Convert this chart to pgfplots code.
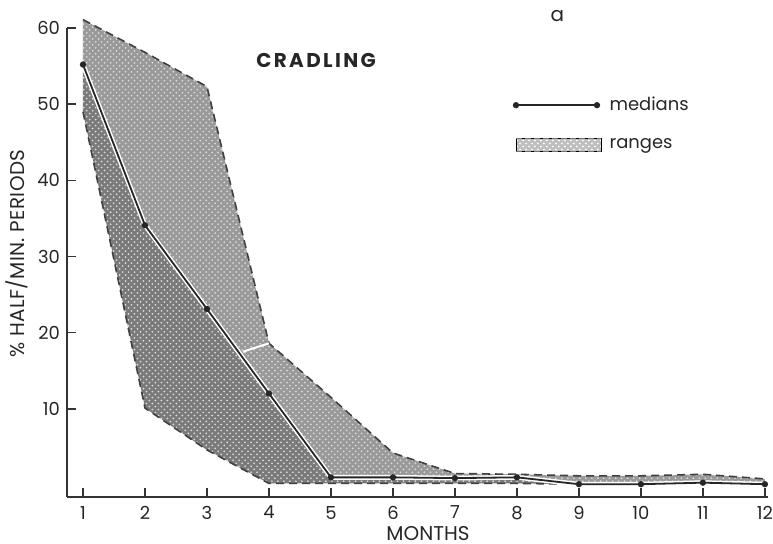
\documentclass[border=0pt]{standalone}
\usepackage{pgfplots}
\usepackage{pgfplotstable}
\pgfplotsset{compat=1.18}
\usepgfplotslibrary{fillbetween}
\usetikzlibrary{patterns}
\usepackage{fontspec}
\setmainfont{Poppins}

% Cradling: medians and ranges per month
\pgfplotstableread{
month upper median lower
1  61.1 55.2 49.0
2  56.8 34.1 10.1
3  52.3 23.1  4.6
4  18.6 12.0  0.2
5  11.5  1.0  0.2
6   4.2  1.0  0.2
7   1.5  0.9  0.2
8   1.4  1.0  0.2
9   1.2  0.1  0.1
10  1.2  0.1  0.1
11  1.4  0.3  0.2
12  0.8  0.1  0.1
}\cradling

\begin{document}
\begin{tikzpicture}
\begin{axis}[
  scale only axis,
  width=350.5bp, height=234.5bp,
  xmin=0.742, xmax=12.05,
  ymin=-1.58, ymax=60,
  axis x line=bottom, axis y line=left,
  axis line style={-, line width=0.75bp, black!80},
  tick align=inside,
  major tick length=4.5bp,
  tick style={line width=0.7bp, black!80},
  xtick={1,...,12},
  ytick={10,20,30,40,50,60},
  /pgf/number format/assume math mode=true,
  ticklabel style={font=\fontsize{9}{10}\selectfont, text=black!85},
  xticklabel style={yshift=-1bp},
  xlabel={MONTHS},
  xlabel style={at={(axis description cs:0.515,-0.077)}, anchor=center, font=\fontsize{10}{12}\selectfont, text=black!85},
  ylabel={\% HALF/MIN. PERIODS},
  ylabel style={at={(axis description cs:-0.0713,0.519)}, anchor=center, font=\fontsize{10}{12}\selectfont\addfontfeatures{LetterSpace=2}, text=black!85},
  clip=false,
  legend style={draw=none, fill=none, at={(axis description cs:0.627,0.871)}, anchor=north west,
    font=\fontsize{9}{10}\selectfont, row sep=8.5bp, column sep=2bp, text=black!85},
  legend cell align=left,
]
% range band, split at the medians
\addplot[name path=U, draw=none, forget plot] table[x=month, y=upper] {\cradling};
\addplot[name path=M, draw=none, forget plot] table[x=month, y=median] {\cradling};
\addplot[name path=L, draw=none, forget plot] table[x=month, y=lower] {\cradling};
\addplot[fill=black!40, draw=none, forget plot] fill between[of=U and M];
\addplot[fill=black!52, draw=none, forget plot] fill between[of=M and L];
\addplot[pattern=crosshatch dots, pattern color=white!85!black, draw=none, forget plot] fill between[of=U and L];
% dashed outline of the ranges
\addplot[black!75, line width=0.8bp, dash pattern=on 4bp off 2.5bp, forget plot] table[x=month, y=upper] {\cradling};
\addplot[black!75, line width=0.8bp, dash pattern=on 4bp off 2.5bp, forget plot] table[x=month, y=lower] {\cradling};
\addplot[white, line width=1bp, forget plot] coordinates {(3.58,17.5) (4.0,18.6)};
% medians
\addplot[white, line width=2.4bp, forget plot] table[x=month, y=median] {\cradling};
\addplot[black!85, line width=0.9bp, mark=*, mark size=1.1bp,
  legend image code/.code={
    \draw[black!85, line width=0.7bp] (0bp,0bp) -- (40.5bp,0bp);
    \fill[black!85] (0bp,0bp) circle (1.1bp);
    \fill[black!85] (40.5bp,0bp) circle (1.1bp);
  }] table[x=month, y=median] {\cradling};
\addlegendentry{medians}
\addlegendimage{legend image code/.code={
    \fill[black!25] (0bp,-3.2bp) rectangle (42.5bp,3.2bp);
    \fill[pattern=crosshatch dots, pattern color=white] (0bp,-3.2bp) rectangle (42.5bp,3.2bp);
    \draw[black!55, line width=0.6bp, dash pattern=on 3bp off 1.5bp] (0bp,-3.2bp) -- (42.5bp,-3.2bp);
    \draw[black!55, line width=0.6bp, dash pattern=on 3bp off 1.5bp] (0bp,3.2bp) -- (42.5bp,3.2bp);
  }}
\addlegendentry{ranges}
\node[font=\fontsize{10}{12}\selectfont\bfseries\addfontfeatures{LetterSpace=12}, text=black!85] at (axis cs:4.76,55.8) {CRADLING};
\node[font=\fontsize{10}{12}\selectfont, text=black!85] at (axis cs:8.65,61.6) {a};
\end{axis}
\pgfresetboundingbox
\path[use as bounding box] (-33.5bp,-23.5bp) rectangle (353bp,248.5bp);
\end{tikzpicture}
\end{document}
